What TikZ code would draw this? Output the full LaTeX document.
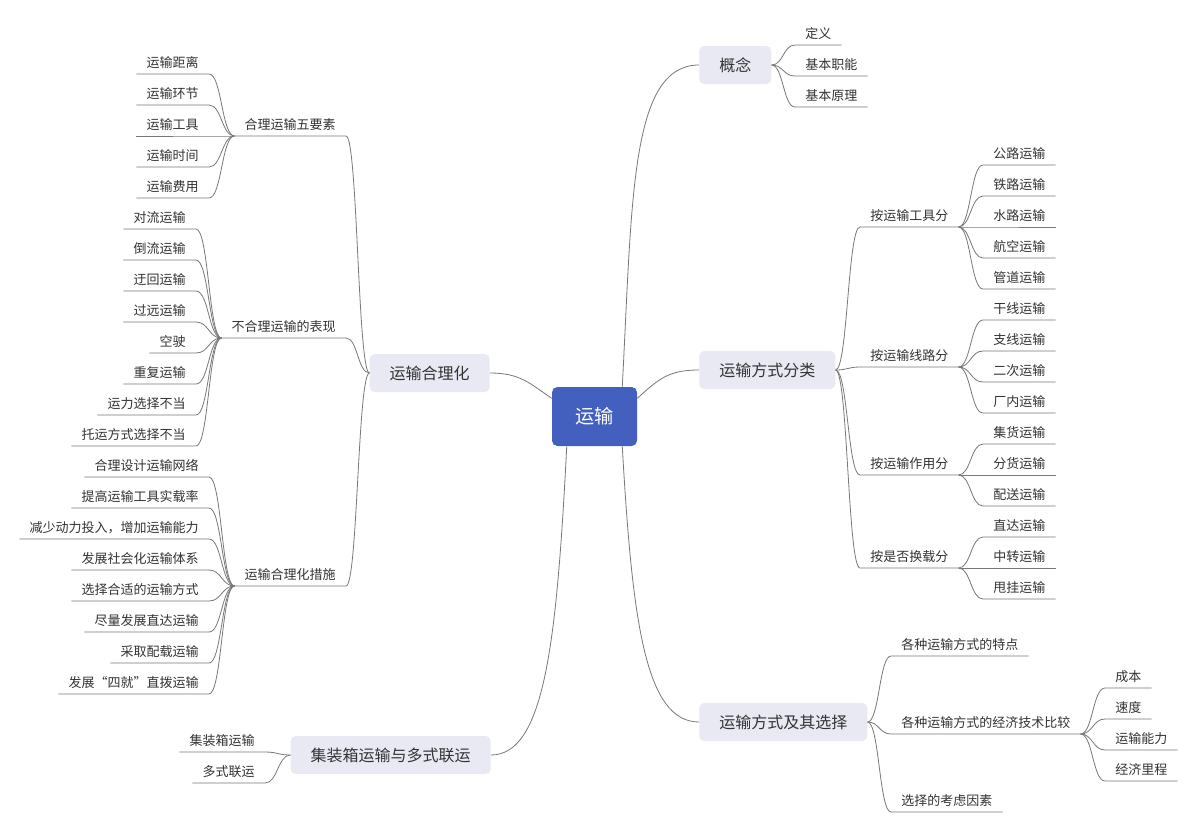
\documentclass[tikz,border=0pt]{standalone}
\usepackage{fontspec}
\setmainfont{Noto Sans CJK SC}
\usepackage{xcolor}
\usepackage{tikz}
\usetikzlibrary{calc}
\definecolor{YSBlue}{RGB}{67, 96, 190}
\definecolor{YSTopic}{RGB}{232, 233, 243}
\definecolor{YSText}{RGB}{51, 51, 51}
\definecolor{YSLine}{RGB}{120, 120, 120}

\tikzset{
  root/.style={rounded corners=4pt, fill=YSBlue, text=white, minimum width=63.75pt, minimum height=44.25pt,
               font=\fontsize{14.4}{16}\selectfont, text height=11.5pt, text depth=0.5pt},
  topic/.style={rounded corners=3.75pt, fill=YSTopic, text=YSText, minimum height=28.5pt, inner xsep=15pt,
                font=\fontsize{12}{14}\selectfont, text height=9.6pt, text depth=0.5pt},
  leaf/.style={text=YSText, inner xsep=7.5pt, inner ysep=3.45pt, text height=7.5pt, text depth=1.5pt,
               font=\fontsize{9.75}{12}\selectfont},
  link/.style={draw=YSLine, line width=0.6pt},
  branch/.style={to path={let \p1=(\tikztostart), \p2=(\tikztotarget) in
      .. controls ($(\x1,\y1)!0.5!(\x2,\y1)$) and ($(\x1,\y2)!0.5!(\x2,\y2)$) .. (\tikztotarget)}},
}

\begin{document}
\begin{tikzpicture}[x=0.75pt, y=-0.75pt]
    \fill[white] (0,0) rectangle (1198,833);

    % centre and main topics
    \node[root] (ys) at (594.5,416.5) {运输};
    \node[topic, anchor=west] (gn) at (699,65) {概念};
    \node[topic, anchor=west] (fsfl) at (699,370) {运输方式分类};
    \node[topic, anchor=west] (fsxz) at (699,722) {运输方式及其选择};
    \node[topic, anchor=east] (hl) at (490,373) {运输合理化};
    \node[topic, anchor=east] (jzx) at (491,755) {集装箱运输与多式联运};

    \draw[link] (ys.47) .. controls +(10,-187) and +(-69,0) .. (gn.west);
    \draw[link] (ys.23) .. controls +(22,-20) and +(-30,0) .. (fsfl.west);
    \draw[link] (ys.313) .. controls +(10,174) and +(-54,0) .. (fsxz.west);
    \draw[link] (ys.157) .. controls +(-22,-15) and +(30,0) .. (hl.east);
    \draw[link] (ys.227) .. controls +(-10,194) and +(54,0) .. (jzx.east);

    % 概念
    \foreach \t [count=\i] in {定义,基本职能,基本原理} {
      \node[leaf, anchor=south west] (gn\i) at (795,{14+31*\i}) {\t};
      \draw[link] (gn.east) to[branch] (gn\i.south west) -- (gn\i.south east);
    }

    % 运输方式分类
    \node[leaf, anchor=south west] (gj) at (860,227) {按运输工具分};
    \node[leaf, anchor=south west] (xl) at (860,367) {按运输线路分};
    \node[leaf, anchor=south west] (zy) at (860,475) {按运输作用分};
    \node[leaf, anchor=south west] (hz) at (860,568) {按是否换载分};
    \foreach \k in {gj,xl,zy,hz}
      \draw[link] (fsfl.east) to[branch] (\k.south west) -- (\k.south east);

    \foreach \t [count=\i] in {公路运输,铁路运输,水路运输,航空运输,管道运输} {
      \node[leaf, anchor=south west] (gj\i) at (983,{134+31*\i}) {\t};
      \draw[link] (gj.south east) to[branch] (gj\i.south west) -- (gj\i.south east);
    }
    \foreach \t [count=\i] in {干线运输,支线运输,二次运输,厂内运输} {
      \node[leaf, anchor=south west] (xl\i) at (983,{289+31*\i}) {\t};
      \draw[link] (xl.south east) to[branch] (xl\i.south west) -- (xl\i.south east);
    }
    \foreach \t [count=\i] in {集货运输,分货运输,配送运输} {
      \node[leaf, anchor=south west] (zy\i) at (983,{413+31*\i}) {\t};
      \draw[link] (zy.south east) to[branch] (zy\i.south west) -- (zy\i.south east);
    }
    \foreach \t [count=\i] in {直达运输,中转运输,甩挂运输} {
      \node[leaf, anchor=south west] (hz\i) at (983,{506+31*\i}) {\t};
      \draw[link] (hz.south east) to[branch] (hz\i.south west) -- (hz\i.south east);
    }

    % 运输方式及其选择
    \node[leaf, anchor=south west] (tz) at (891,656) {各种运输方式的特点};
    \node[leaf, anchor=south west] (bj) at (891,734) {各种运输方式的经济技术比较};
    \node[leaf, anchor=south west] (ks) at (891,812) {选择的考虑因素};
    \foreach \k in {tz,bj,ks}
      \draw[link] (fsxz.east) to[branch] (\k.south west) -- (\k.south east);
    \foreach \t [count=\i] in {成本,速度,运输能力,经济里程} {
      \node[leaf, anchor=south west] (bj\i) at (1105,{657+31*\i}) {\t};
      \draw[link] (bj.south east) to[branch] (bj\i.south west) -- (bj\i.south east);
    }

    % 运输合理化
    \node[leaf, anchor=south east] (hlys) at (346,136) {合理运输五要素};
    \node[leaf, anchor=south east] (bhl) at (346,338) {不合理运输的表现};
    \node[leaf, anchor=south east] (hlcs) at (346,586) {运输合理化措施};
    \foreach \k in {hlys,bhl,hlcs}
      \draw[link] (hl.west) to[branch] (\k.south east) -- (\k.south west);

    \foreach \t [count=\i] in {运输距离,运输环节,运输工具,运输时间,运输费用} {
      \node[leaf, anchor=south east] (hlys\i) at (209,{43+31*\i}) {\t};
      \draw[link] (hlys.south west) to[branch] (hlys\i.south east) -- (hlys\i.south west);
    }
    \foreach \t [count=\i] in {对流运输,倒流运输,迂回运输,过远运输,空驶,重复运输,运力选择不当,托运方式选择不当} {
      \node[leaf, anchor=south east] (bhl\i) at (196,{198+31*\i}) {\t};
      \draw[link] (bhl.south west) to[branch] (bhl\i.south east) -- (bhl\i.south west);
    }
    \foreach \t [count=\i] in {合理设计运输网络,提高运输工具实载率,减少动力投入，增加运输能力,发展社会化运输体系,
                               选择合适的运输方式,尽量发展直达运输,采取配载运输,发展“四就”直拨运输} {
      \node[leaf, anchor=south east] (hlcs\i) at (209,{446+31*\i}) {\t};
      \draw[link] (hlcs.south west) to[branch] (hlcs\i.south east) -- (hlcs\i.south west);
    }

    % 集装箱运输与多式联运
    \node[leaf, anchor=south east] (jzx1) at (265,752) {集装箱运输};
    \node[leaf, anchor=south east] (jzx2) at (265,783) {多式联运};
    \foreach \k in {jzx1,jzx2}
      \draw[link] (jzx.west) to[branch] (\k.south east) -- (\k.south west);
\end{tikzpicture}
\end{document}
